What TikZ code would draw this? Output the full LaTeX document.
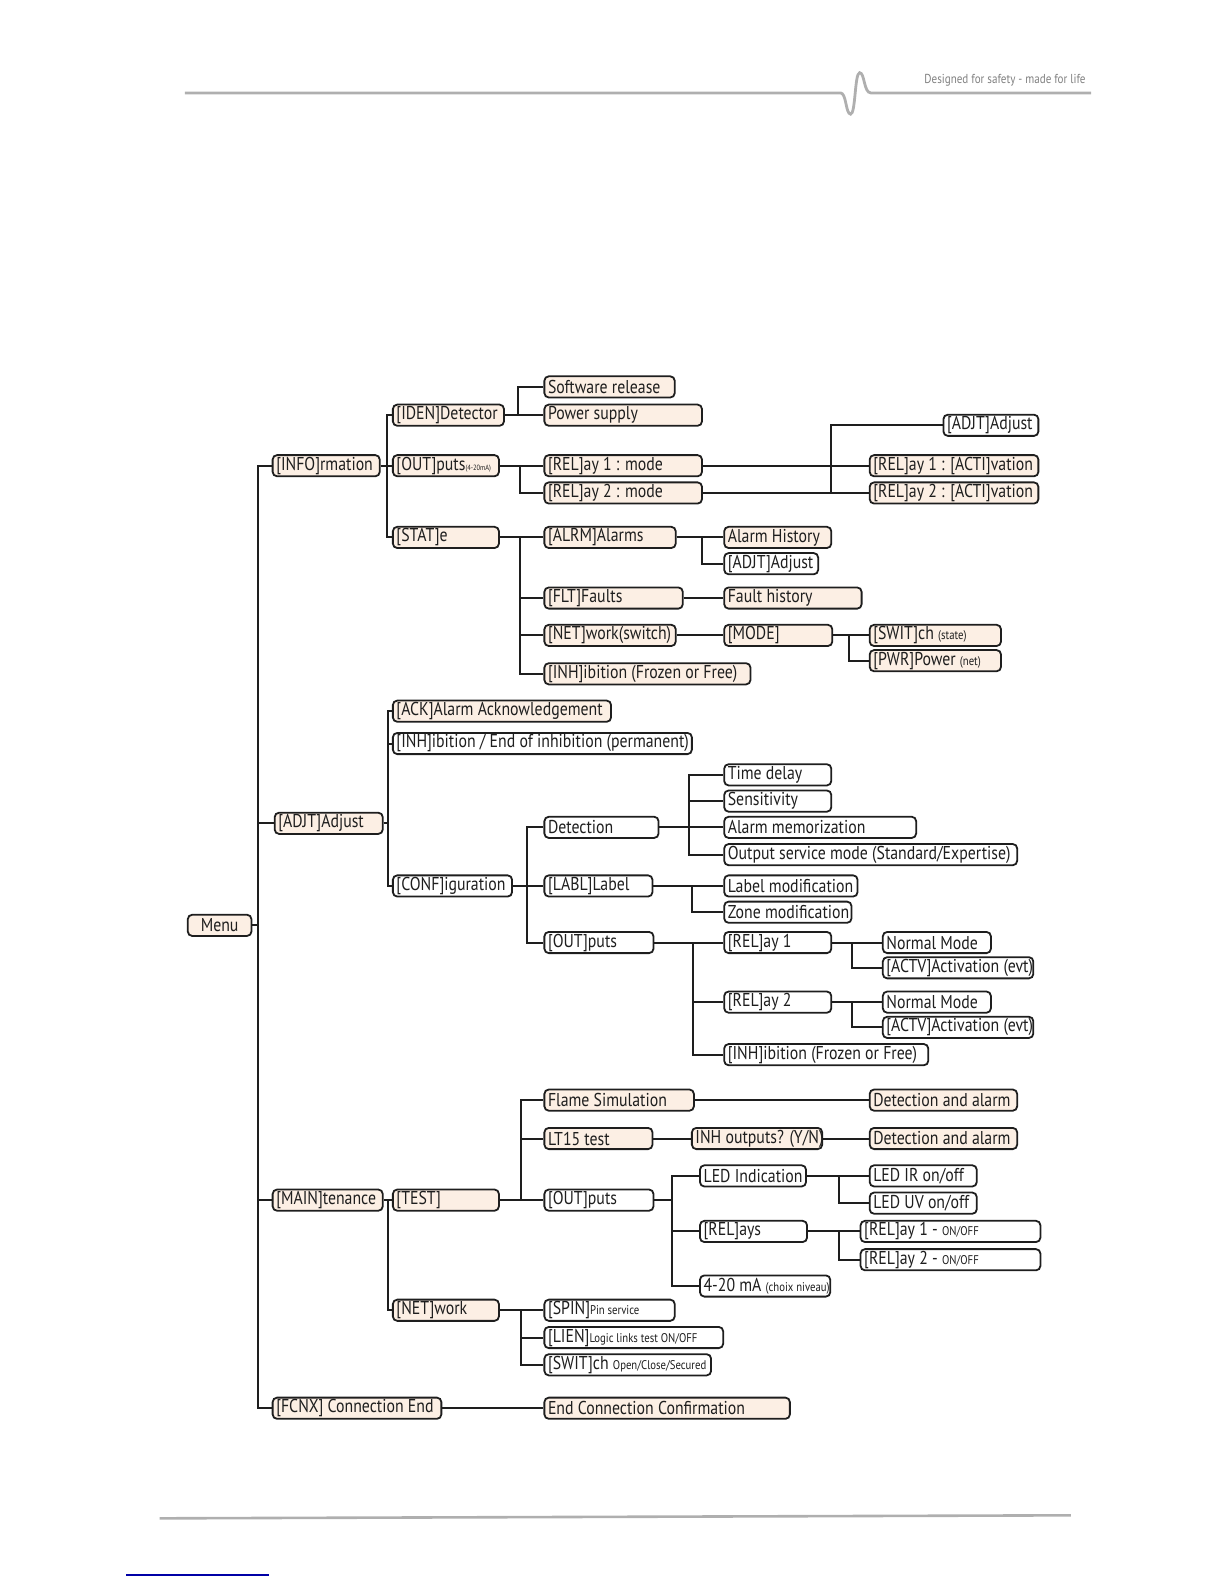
\documentclass[tikz,border=0pt]{standalone}
\usepackage{fontspec}
\setmainfont{PT Sans}[FakeStretch=0.85]
\definecolor{peach}{RGB}{252,239,228}
\definecolor{ink}{RGB}{30,30,30}
\definecolor{hdr}{RGB}{175,175,175}
\newcommand\sm[1]{{\fontsize{6.3}{6.5}\selectfont #1}}
\newcommand\tn[1]{{\fontsize{3.8}{4}\selectfont #1}}
\newcommand\ipad{1.8}
\newcommand\bx[6][wb]{%
  \pgfmathsetmacro\bw{(#4-#3)*0.50495-2*\ipad}%
  \node[#1, text width=\bw pt, anchor=west] (#2) at (#3,#5) {\mbox{\spaceskip=0pt\xspaceskip=0pt #6}};}
\newcommand\fork[3]{%
  \coordinate (br) at (#2,0);
  \foreach \c in {#3}{\draw[conn] (#1.east) -- (#1.east -| br) |- (\c.west);}}
\begin{document}
\begin{tikzpicture}[x=0.50495pt,y=-0.50495pt,
  box/.style={draw=ink, line width=0.9pt, rounded corners=2.2pt, minimum height=10.6pt,
    inner xsep=\ipad pt, inner ysep=0pt, align=left, font=\fontsize{9.3}{9.5}\selectfont, text=ink},
  wb/.style={box, fill=white},
  pb/.style={box, fill=peach},
  conn/.style={draw=ink, line width=1pt}]
\path[use as bounding box] (0,0) rectangle (1212,1568);
% header & footer
\draw[hdr, line width=1.4pt] (183,92) -- (832,92) .. controls (838,92) and (837,113) .. (842,113)
  .. controls (847,113) and (846,72) .. (851,72) .. controls (856,72) and (855,92) .. (862,92) -- (1080,92);
\node[anchor=east, text=gray, font=\fontsize{6.5}{7}\selectfont, inner sep=0pt] (tag) at (1075,79) {Designed for safety - made for life};
\draw[hdr, line width=1.3pt] (158,1503) -- (1060,1500);
\draw[blue!65!black, line width=0.7pt] (125,1559) -- (266,1559);
% level 0/1
\node[pb, minimum width=63*0.50495pt, anchor=west, align=center] (menu) at (185,916) {Menu};
\bx[pb]{info}{269}{375}{461}{[INFO]rmation}
\bx[pb]{adjt}{271}{378}{815}{[ADJT]Adjust}
\bx[pb]{main}{269}{378}{1188}{[MAIN]tenance}
\bx[pb]{fcnx}{269}{436}{1394}{[FCNX] Connection End}
% information
\bx[pb]{iden}{388}{498}{411}{[IDEN]Detector}
\bx[pb]{outi}{388}{493}{461}{[OUT]puts\tn{(4-20mA)}}
\bx[pb]{stat}{388}{493}{532}{[STAT]e}
\bx[pb]{soft}{538}{667}{383}{Software release}
\bx[pb]{power}{538}{694}{411}{Power supply}
\bx[pb]{r1m}{538}{694}{461}{[REL]ay 1 : mode}
\bx[pb]{r2m}{538}{694}{488}{[REL]ay 2 : mode}
\bx[wb]{adjtA}{933}{1027}{421}{[ADJT]Adjust}
\bx[pb]{r1a}{860}{1027}{461}{[REL]ay 1 : [ACTI]vation}
\bx[pb]{r2a}{860}{1027}{488}{[REL]ay 2 : [ACTI]vation}
\bx[pb]{alrm}{538}{668}{532}{[ALRM]Alarms}
\bx[pb]{flt}{538}{675}{592}{[FLT]Faults}
\bx[pb]{netsw}{538}{668}{629}{[NET]work(switch)}
\bx[pb]{inhs}{538}{742}{667}{[INH]ibition (Frozen or Free)}
\bx[pb]{ahist}{716}{822}{532}{Alarm History}
\bx[wb]{adjtB}{716}{809}{558}{[ADJT]Adjust}
\bx[pb]{fhist}{716}{852}{592}{Fault history}
\bx[pb]{mode}{716}{823}{629}{[MODE]}
\bx[pb]{swit}{860}{990}{629}{[SWIT]ch \sm{(state)}}
\bx[pb]{pwr}{860}{990}{654}{[PWR]Power \sm{(net)}}
% adjust
\bx[pb]{ack}{388}{604}{704}{[ACK]Alarm Acknowledgement}
\bx[wb]{inhp}{388}{684}{736}{[INH]ibition / End of inhibition (permanent)}
\bx[wb]{conf}{388}{506}{877}{[CONF]iguration}
\bx[wb]{det}{538}{651}{819}{Detection}
\bx[wb]{labl}{538}{645}{877}{[LABL]Label}
\bx[wb]{outc}{538}{646}{933}{[OUT]puts}
\bx[wb]{tdel}{716}{822}{767}{Time delay}
\bx[wb]{sens}{716}{822}{793}{Sensitivity}
\bx[wb]{amem}{716}{906}{819}{Alarm memorization}
\bx[wb]{osm}{716}{1006}{846}{Output service mode (Standard/Expertise)}
\bx[wb]{lmod}{716}{848}{877}{Label modification}
\bx[wb]{zmod}{716}{842}{903}{Zone modification}
\bx[wb]{rel1}{716}{822}{933}{[REL]ay 1}
\bx[wb]{rel2}{716}{822}{992}{[REL]ay 2}
\bx[wb]{inhc}{716}{918}{1044}{[INH]ibition (Frozen or Free)}
\bx[wb]{nm1}{873}{980}{933}{Normal Mode}
\bx[wb]{act1}{873}{1022}{958}{[ACTV]Activation (evt)}
\bx[wb]{nm2}{873}{980}{992}{Normal Mode}
\bx[wb]{act2}{873}{1022}{1017}{[ACTV]Activation (evt)}
% maintenance
\bx[pb]{test}{388}{493}{1188}{[TEST]}
\bx[pb]{netw}{388}{493}{1297}{[NET]work}
\bx[pb]{flame}{538}{686}{1089}{Flame Simulation}
\bx[pb]{lt15}{538}{645}{1127}{LT15 test}
\bx[wb]{outm}{538}{646}{1188}{[OUT]puts}
\bx[pb]{det1}{860}{1006}{1089}{Detection and alarm}
\bx[pb]{inho}{684}{813}{1127}{INH outputs? (Y/N)}
\bx[pb]{det2}{860}{1006}{1127}{Detection and alarm}
\bx[wb]{led}{692}{797}{1164}{LED Indication}
\bx[wb]{rels}{692}{798}{1219}{[REL]ays}
\bx[wb]{ma}{692}{821}{1273}{4-20 mA \sm{(choix niveau)}}
\bx[wb]{ledir}{860}{966}{1164}{LED IR on/off}
\bx[wb]{leduv}{860}{966}{1191}{LED UV on/off}
\bx[wb]{rl1}{851}{1029}{1219}{[REL]ay 1 - \sm{ON/OFF}}
\bx[wb]{rl2}{851}{1029}{1247}{[REL]ay 2 - \sm{ON/OFF}}
\bx[wb]{spin}{538}{667}{1297}{[SPIN]\sm{Pin service}}
\bx[wb]{lien}{538}{715}{1324}{[LIEN]\sm{Logic links test ON/OFF}}
\bx[wb]{switn}{538}{703}{1351}{[SWIT]ch \sm{Open/Close/Secured}}
\bx[pb]{endc}{538}{781}{1394}{End Connection Confirmation}
% connectors
\fork{menu}{255}{info,adjt,main,fcnx}
\fork{info}{383}{iden,outi,stat}
\fork{iden}{513}{soft,power}
\fork{outi}{515}{r1m,r2m}
\draw[conn] (r1m.east) -- (r1a.west);
\draw[conn] (r2m.east) -- (r2a.west);
\coordinate (brA) at (823,0);
\draw[conn] (r2m.east -| brA) |- (adjtA.west);
\fork{stat}{515}{alrm,flt,netsw,inhs}
\fork{alrm}{695}{ahist,adjtB}
\draw[conn] (flt.east) -- (fhist.west);
\draw[conn] (netsw.east) -- (mode.west);
\fork{mode}{840}{swit,pwr}
\fork{adjt}{384}{ack,inhp,conf}
\fork{conf}{522}{det,labl,outc}
\fork{det}{682}{tdel,sens,amem,osm}
\fork{labl}{685}{lmod,zmod}
\fork{outc}{686}{rel1,rel2,inhc}
\fork{rel1}{843}{nm1,act1}
\fork{rel2}{843}{nm2,act2}
\fork{main}{384}{test,netw}
\fork{test}{516}{flame,lt15,outm}
\draw[conn] (flame.east) -- (det1.west);
\draw[conn] (lt15.east) -- (inho.west);
\draw[conn] (inho.east) -- (det2.west);
\fork{outm}{665}{led,rels,ma}
\fork{led}{831}{ledir,leduv}
\fork{rels}{831}{rl1,rl2}
\fork{netw}{516}{spin,lien,switn}
\draw[conn] (fcnx.east) -- (endc.west);
\end{tikzpicture}
\end{document}
